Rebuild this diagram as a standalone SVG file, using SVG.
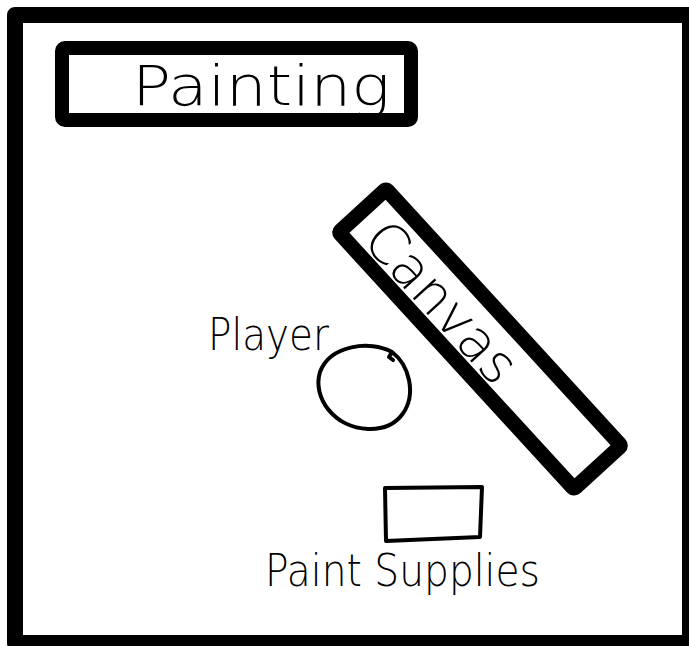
<svg xmlns="http://www.w3.org/2000/svg" width="689" height="646" viewBox="0 0 689 646">
  <style>
    .thick { fill: none; stroke: #000; stroke-linejoin: round; }
    .thin { fill: none; stroke: #000; stroke-width: 4; stroke-linecap: round; stroke-linejoin: round; }
    .hand { font-family: "DejaVu Sans", "Liberation Sans", sans-serif; font-weight: 200; fill: #000; }
  </style>
  <rect width="689" height="646" fill="#fff"/>
  <g id="frame">
    <rect class="thick" x="15" y="15" width="675" height="628" stroke-width="16" stroke-linejoin="miter"/>
  </g>
  <g id="painting">
    <rect class="thick" x="62" y="48" width="349" height="72" rx="3" stroke-width="14"/>
    <text class="hand" x="132" y="105" font-size="56" textLength="258" lengthAdjust="spacingAndGlyphs">Painting</text>
  </g>
  <g id="canvas">
    <g transform="translate(480,339) rotate(47.5)">
      <rect class="thick" x="-174" y="-32" width="348" height="64" rx="2" stroke-width="15"/>
      <text class="hand" x="-152" y="22" font-size="54" textLength="198" lengthAdjust="spacingAndGlyphs">Canvas</text>
    </g>
  </g>
  <g id="player">
    <text class="hand" x="208" y="350" font-size="44" textLength="121" lengthAdjust="spacingAndGlyphs">Player</text>
    <path class="thin" d="M392,352 C370,340 330,345 320,372 C312,398 335,428 368,429 C400,430 414,405 409,380 C406,366 400,358 392,352 Z M392,352 l-3,5 l4,3"/>
  </g>
  <g id="paint-supplies">
    <path class="thin" d="M385,488 L482,487 L480,537 L386,541 Z" stroke-width="5"/>
    <text class="hand" x="265" y="586" font-size="44" textLength="275" lengthAdjust="spacingAndGlyphs">Paint Supplies</text>
  </g>
  <g id="connectors"/>
</svg>
